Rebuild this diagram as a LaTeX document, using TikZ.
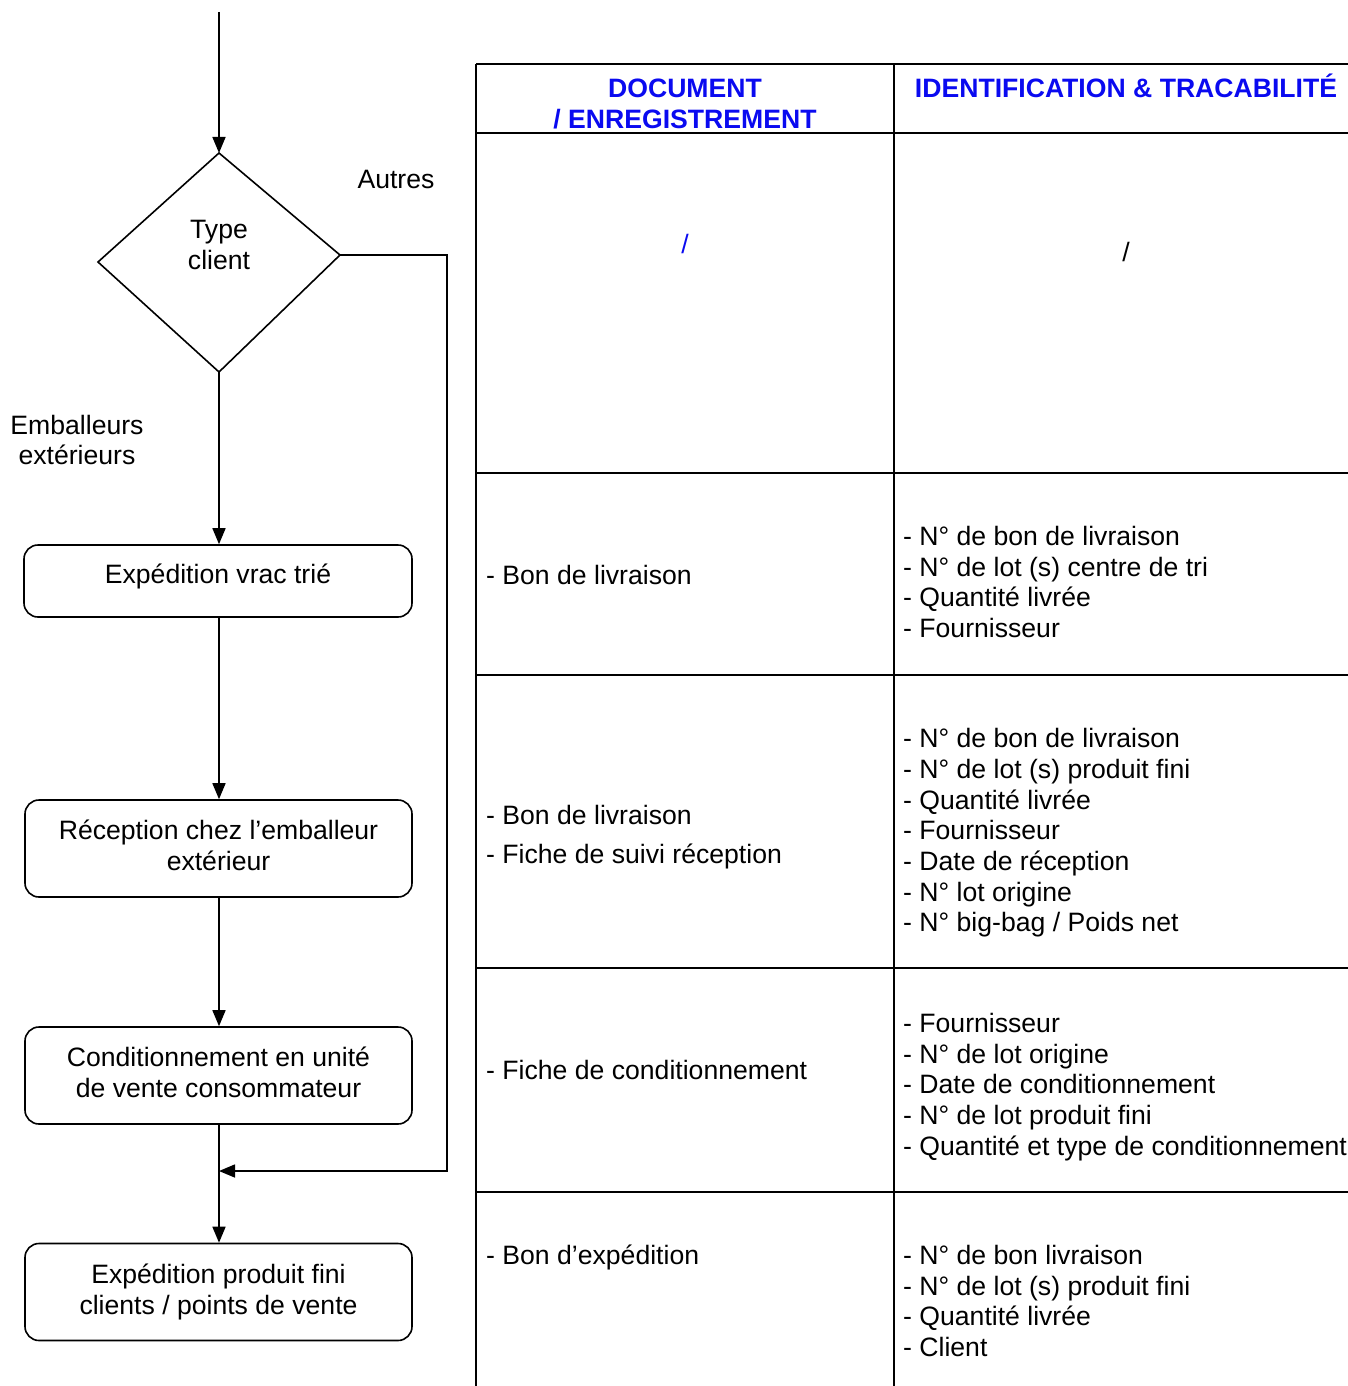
\documentclass[tikz,border=0pt]{standalone}
\usepackage{fontspec}
\setmainfont{Liberation Sans}
\usetikzlibrary{arrows.meta,shapes.geometric}
\definecolor{hdrblue}{RGB}{10,10,240}
\tikzset{
  txt/.style={inner sep=0pt, font=\fontsize{26.6}{30.7}\selectfont},
  cell/.style={txt, anchor=west, align=left},
  hdr/.style={inner sep=0pt, font=\fontsize{26.6}{31}\selectfont\bfseries, text=hdrblue, align=center},
  procbox/.style={draw, line width=1.6pt, rounded corners=14pt, inner sep=0pt},
  flow/.style={line width=1.6pt, -{Triangle[length=16pt,width=13pt]}},
  grid/.style={line width=2.4pt}
}
\begin{document}
\begin{tikzpicture}[x=1pt,y=-1pt]
\useasboundingbox (0,0) rectangle (1348,1386);
% ---- table ----
\draw[grid] (476,64) -- (1348,64);
\draw[grid] (476,64) -- (476,1386);
\draw[grid] (894,64) -- (894,1386);
\foreach \yy in {133,473,675,968,1192}{\draw[grid] (476,\yy) -- (1348,\yy);}
\node[hdr] (h1) at (685,104) {DOCUMENT\\/ ENREGISTREMENT};
\node[hdr] (h2) at (1126,86) {IDENTIFICATION \& TRACABILITÉ};
\node[txt, text=hdrblue] (s1) at (685,244) {/};
\node[txt] (s2) at (1126,252) {/};
\node[cell] (c21) at (486,575) {- Bon de livraison};
\node[cell] (c22) at (903,582) {- N° de bon de livraison\\- N° de lot (s) centre de tri\\- Quantité livrée\\- Fournisseur};
\node[cell] (c31) at (486,815) {- Bon de livraison};
\node[cell] (c31b) at (486,856) {- Fiche de suivi réception};
\node[cell] (c32) at (903,833) {- N° de bon de livraison\\- N° de lot (s) produit fini\\- Quantité livrée\\- Fournisseur\\- Date de réception\\- N° lot origine\\- N° big-bag / Poids net};
\node[cell] (c41) at (486,1070) {- Fiche de conditionnement};
\node[cell] (c42) at (903,1087) {- Fournisseur\\- N° de lot origine\\- Date de conditionnement\\- N° de lot produit fini\\- Quantité et type de conditionnement};
\node[cell] (c51) at (486,1257) {- Bon d’expédition};
\node[cell] (c52) at (903,1301) {- N° de bon livraison\\- N° de lot (s) produit fini\\- Quantité livrée\\- Client};
% ---- flowchart ----
\coordinate (start) at (219,12);
\coordinate (dt) at (219,153);
\coordinate (dr) at (340,255);
\coordinate (db) at (219,372);
\coordinate (dl) at (98,262);
\draw[line width=1.6pt, line join=miter] (dt) -- (dr) -- (db) -- (dl) -- cycle;
\node[txt, align=center] (dect) at (219,245) {Type\\client};
\node[txt] (autres) at (396,179) {Autres};
\node[txt, align=center] (emb) at (77,440) {Emballeurs\\extérieurs};
\node[procbox, minimum width=388pt, minimum height=72pt] (b1) at (218,581) {};
\node[txt] (b1t) at (218,576) {Expédition vrac trié};
\node[procbox, minimum width=387pt, minimum height=97pt] (b2) at (218.5,848.5) {};
\node[txt, align=center] (b2t) at (218.5,845.5) {Réception chez l’emballeur\\extérieur};
\node[procbox, minimum width=387pt, minimum height=97pt] (b3) at (218.5,1075.5) {};
\node[txt, align=center] (b3t) at (218.5,1072.5) {Conditionnement en unité\\de vente consommateur};
\node[procbox, minimum width=387pt, minimum height=97pt] (b4) at (218.5,1292) {};
\node[txt, align=center] (b4t) at (218.5,1292) {Expédition produit fini\\clients / points de vente};
\coordinate (rt) at (447,255);
\coordinate (rb) at (447,1171);
\coordinate (join) at (219,1171);
\draw[flow] (start) -- (dt);
\draw[flow] (db) -- (db |- b1.north);
\draw[flow] (219,0 |- b1.south) -- (219,0 |- b2.north);
\draw[flow] (219,0 |- b2.south) -- (219,0 |- b3.north);
\draw[flow] (219,0 |- b3.south) -- (219,0 |- b4.north);
\draw[flow] (dr) -- (rt) -- (rb) -- (join);
\end{tikzpicture}
\end{document}
